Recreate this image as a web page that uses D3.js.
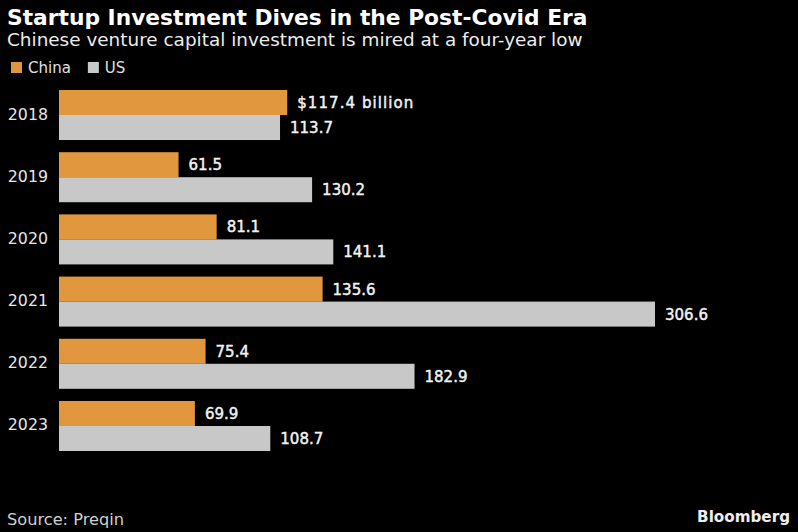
<!DOCTYPE html>
<html><head><meta charset="utf-8">
<script src="https://cdn.jsdelivr.net/npm/d3@7"></script>
<style>
body{margin:0;background:#000;}
svg{display:block;}
text{font-family:"DejaVu Sans","Noto Sans",sans-serif;}
</style></head><body>
<svg id="chart" width="798" height="532"></svg>
<script>
const years = ["2018","2019","2020","2021","2022","2023"];
const china = [117.4, 61.5, 81.1, 135.6, 75.4, 69.9];
const us = [113.7, 130.2, 141.1, 306.6, 182.9, 108.7];
const seriesNames = ["China","US"];
const colors = ["#e1973e","#c8c8c8"];

const svg = d3.select("#chart");
svg.append("rect").attr("width",798).attr("height",532).attr("fill","#000");

function fit(sel, target){
  const w = sel.node().getComputedTextLength();
  const fs = parseFloat(sel.style("font-size"));
  sel.style("font-size", (fs*target/w).toFixed(2)+"px");
  return sel;
}
function spread(sel, target){
  const w = sel.node().getComputedTextLength();
  const n = sel.text().length;
  sel.style("letter-spacing", ((target-w)/(n-1)).toFixed(2)+"px");
  return sel;
}

fit(svg.append("text").attr("x",7).attr("y",25).attr("fill","#fff")
  .style("font-size","20px").style("font-weight","700")
  .text("Startup Investment Dives in the Post-Covid Era"), 581);
fit(svg.append("text").attr("x",7).attr("y",46).attr("fill","#ececec")
  .style("font-size","16px")
  .text("Chinese venture capital investment is mired at a four-year low"), 576);

// legend
const leg = svg.append("g");
let lx = 11;
seriesNames.forEach((n,i)=>{
  leg.append("rect").attr("x",lx).attr("y",62).attr("width",11).attr("height",11).attr("fill",colors[i]);
  const t = leg.append("text").attr("x",lx+17).attr("y",73).attr("fill","#e0e0e0").style("font-size","15px").text(n);
  lx += 17 + t.node().getComputedTextLength() + 17;
});

const x = d3.scaleLinear().domain([0,306.6]).range([59,655]);
const y = d3.scaleBand().domain(years).range([90,451]).paddingInner(0.196).paddingOuter(0);
const ySub = d3.scaleBand().domain(seriesNames).range([0,y.bandwidth()]);

const groups = svg.selectAll("g.yr").data(years).join("g").attr("class","yr")
  .attr("transform",d=>`translate(0,${y(d)})`);

groups.append("text").attr("x",48).attr("y",y.bandwidth()/2+4.5).attr("text-anchor","end")
  .attr("fill","#e6e6e6").style("font-size","15.8px").text(d=>d);

const data = years.map((yr,i)=>[{s:"China",v:china[i]},{s:"US",v:us[i]}]);
groups.each(function(d,gi){
  const g = d3.select(this);
  data[gi].forEach((b,bi)=>{
    g.append("rect").attr("x",x(0)).attr("y",ySub(b.s)).attr("width",x(b.v)-x(0))
      .attr("height",ySub.bandwidth()).attr("fill",colors[bi]);
    const t = g.append("text").attr("x",x(b.v)+10).attr("y",ySub(b.s)+ySub.bandwidth()/2+5.5)
      .attr("fill","#f2f2f2").attr("stroke","#f2f2f2").attr("stroke-width",0.45)
      .style("font-size","15px")
      .text(gi===0&&bi===0 ? `$${b.v.toFixed(1)} billion` : b.v.toFixed(1));
    if(gi===0&&bi===0) spread(t,116);
  });
});

fit(svg.append("text").attr("x",7).attr("y",525).attr("fill","#cfcfcf").style("font-size","14px").text("Source: Preqin"),117);
fit(svg.append("text").attr("x",790).attr("y",522).attr("text-anchor","end").attr("fill","#eeeeee")
  .style("font-size","14px").style("font-weight","700").text("Bloomberg"),93);
</script></body></html>
